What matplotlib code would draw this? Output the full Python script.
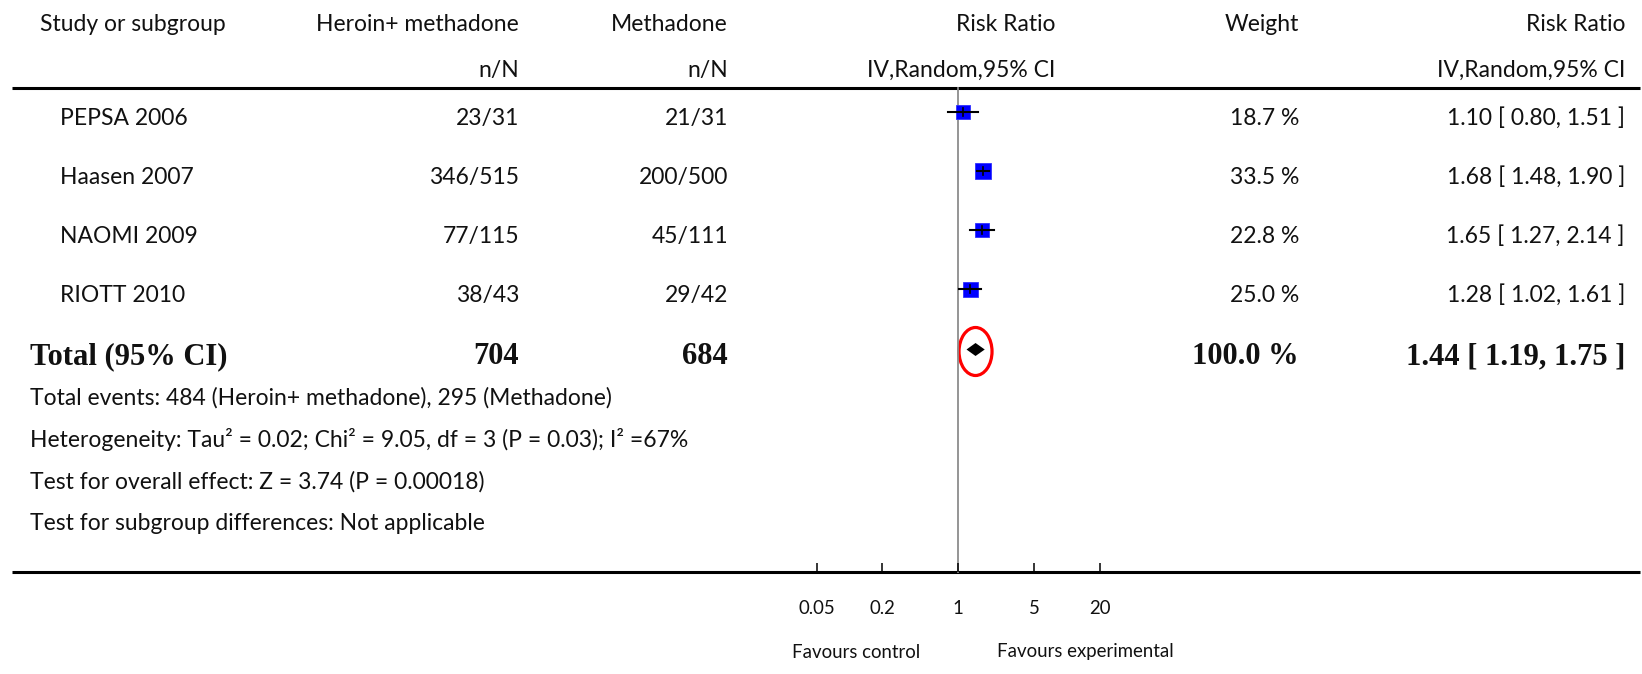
import numpy as np
import matplotlib
matplotlib.use('Agg')
import matplotlib.pyplot as plt
from matplotlib.patches import Ellipse

# study level data
studies = ['PEPSA 2006', 'Haasen 2007', 'NAOMI 2009', 'RIOTT 2010']
exp_events = [23, 346, 77, 38]
exp_total = [31, 515, 115, 43]
ctl_events = [21, 200, 45, 29]
ctl_total = [31, 500, 111, 42]
weights = [18.7, 33.5, 22.8, 25.0]
rr = [1.10, 1.68, 1.65, 1.28]
rr_lo = [0.80, 1.48, 1.27, 1.02]
rr_hi = [1.51, 1.90, 2.14, 1.61]

# pooled result
total_exp = 704
total_ctl = 684
total_weight = 100.0
total_rr = 1.44
total_lo = 1.19
total_hi = 1.75

footer = [
    'Total events: 484 (Heroin+ methadone), 295 (Methadone)',
    'Heterogeneity: Tau\u00b2 = 0.02; Chi\u00b2 = 9.05, df = 3 (P = 0.03); I\u00b2 =67%',
    'Test for overall effect: Z = 3.74 (P = 0.00018)',
    'Test for subgroup differences: Not applicable',
]
ticks = [0.05, 0.2, 1, 5, 20]
tick_labels = ['0.05', '0.2', '1', '5', '20']

W, H = 1642, 674
fig = plt.figure(figsize=(W / 100, H / 100), dpi=100)

# table layer in pixel units
bg = fig.add_axes([0, 0, 1, 1])
bg.set_xlim(0, W)
bg.set_ylim(H, 0)
bg.axis('off')

# forest layer: log scale, 1 at x=958 px, 108.8 px per decade
x_one, per_dec = 958.3, 108.8
ax = fig.add_axes([0, 0, 1, 1], facecolor='none')
ax.set_xscale('log')
ax.set_xlim(10 ** (-x_one / per_dec), 10 ** ((W - x_one) / per_dec))
ax.set_ylim(H, 0)
ax.axis('off')

sans = 'Lato'
serif = 'Liberation Serif'
ink = '#111111'
fs = 16.5

def txt(x, y, s, ha='left', **kw):
    kw.setdefault('family', sans)
    kw.setdefault('fontsize', fs)
    bg.text(x, y, s, ha=ha, va='baseline', color=ink, **kw)

# header
col_n1, col_n2, col_fp, col_w, col_rr = 519, 728, 1055, 1299, 1625
txt(40, 31, 'Study or subgroup')
txt(col_n1, 31, 'Heroin+ methadone', ha='right')
txt(col_n2, 31, 'Methadone', ha='right')
txt(col_fp, 31, 'Risk Ratio', ha='right')
txt(col_w, 31, 'Weight', ha='right')
txt(col_rr, 31, 'Risk Ratio', ha='right')
txt(col_n1, 77, 'n/N', ha='right')
txt(col_n2, 77, 'n/N', ha='right')
txt(col_fp, 77, 'IV,Random,95% CI', ha='right')
txt(col_rr, 77, 'IV,Random,95% CI', ha='right')

# table rules
bg.plot([12, 1640], [88, 88], color='black', lw=2.2, solid_capstyle='butt')
bg.plot([12, 1640], [572, 572], color='black', lw=2.2, solid_capstyle='butt')

# line of no effect
ax.plot([1, 1], [88, 572], color='#8c8c8c', lw=1.3, zorder=1)

# study rows
for i, name in enumerate(studies):
    base = 125 + 59 * i
    y = base - 13
    txt(60, base, name)
    txt(col_n1, base, f'{exp_events[i]}/{exp_total[i]}', ha='right')
    txt(col_n2, base, f'{ctl_events[i]}/{ctl_total[i]}', ha='right')
    txt(col_w, base, f'{weights[i]:.1f} %', ha='right')
    txt(col_rr, base, f'{rr[i]:.2f} [ {rr_lo[i]:.2f}, {rr_hi[i]:.2f} ]', ha='right')

    side = (12 + 0.12 * weights[i]) * 0.72
    ax.plot(rr[i], y, marker='s', ms=side, color='#0000ff', mec='#3030ff',
            mew=0.6, zorder=2)
    ax.plot([rr_lo[i], rr_hi[i]], [y, y], color='black', lw=1.5, zorder=3)
    ax.plot([rr[i], rr[i]], [y - 4, y + 4], color='black', lw=1.2, zorder=3)

# pooled row
tb = 364
bold = dict(family=serif, fontsize=22, fontweight='bold')
txt(30, tb, 'Total (95% CI)', **bold)
txt(col_n1, tb, str(total_exp), ha='right', **bold)
txt(col_n2, tb, str(total_ctl), ha='right', **bold)
txt(col_w, tb, f'{total_weight:.1f} %', ha='right', **bold)
txt(col_rr, tb, f'{total_rr:.2f} [ {total_lo:.2f}, {total_hi:.2f} ]', ha='right', **bold)

yd = 349.5
ax.fill([total_lo, total_rr, total_hi, total_rr], [yd, yd - 6.5, yd, yd + 6.5],
        color='black', lw=0, zorder=3)

# red ring around the pooled estimate
cx, cy = ax.transData.transform((total_rr, yd + 2))
bg_x, bg_y = bg.transData.inverted().transform((cx, cy))
bg.add_patch(Ellipse((bg_x, bg_y), 33, 48, fill=False, ec='#ff0000', lw=2.3))

# footer
for k, line in enumerate(footer):
    txt(30, 405 + 41.7 * k, line)

# axis ticks and labels
ax.vlines(ticks, 563, 572, color='black', lw=1.1)
for t, lab in zip(ticks, tick_labels):
    ax.text(t, 608, lab, ha='center', va='center', family=sans, fontsize=13.4,
            color=ink)
bg.text(856, 652, 'Favours control', ha='center', va='center', family=sans,
        fontsize=13.4, color=ink)
bg.text(1085, 652, 'Favours experimental', ha='center', va='center', family=sans,
        fontsize=13.4, color=ink)

fig.savefig('out.png', dpi=100)
